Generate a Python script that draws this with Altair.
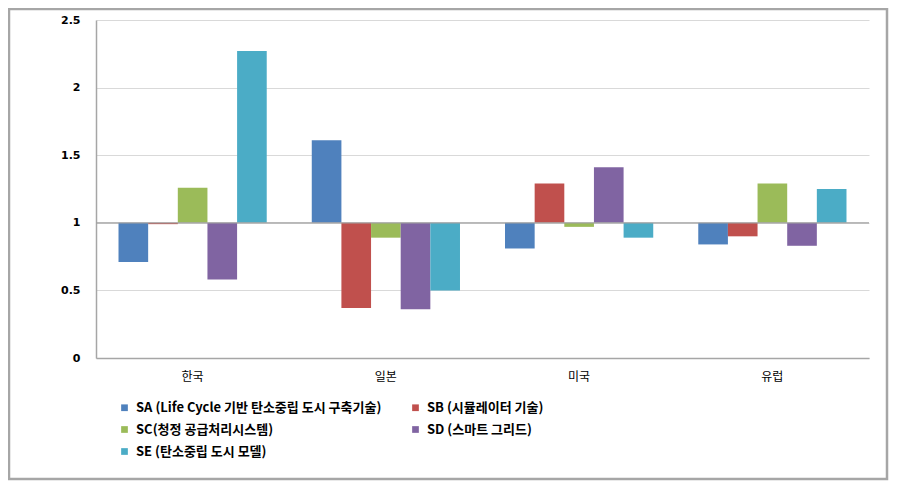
import altair as alt
import pandas as pd

categories = ["한국", "일본", "미국", "유럽"]
series = [
    "SA (Life Cycle 기반 탄소중립 도시 구축기술)",
    "SB (시뮬레이터 기술)",
    "SC(청정 공급처리시스템)",
    "SD (스마트 그리드)",
    "SE (탄소중립 도시 모델)",
]
colors = ["#4F81BD", "#C0504D", "#9BBB59", "#8064A2", "#4BACC6"]
SA = [0.71, 1.61, 0.81, 0.84]
SB = [0.99, 0.37, 1.29, 0.90]
SC = [1.26, 0.89, 0.97, 1.29]
SD = [0.58, 0.36, 1.41, 0.83]
SE = [2.27, 0.50, 0.89, 1.25]
y_ticks = [0, 0.5, 1, 1.5, 2, 2.5]

rows = []
for s, vals in zip(series, [SA, SB, SC, SD, SE]):
    for c, v in zip(categories, vals):
        rows.append({"국가": c, "기술": s, "값": v})
df = pd.DataFrame(rows)

W, H = 773, 338
FONT = "Noto Sans CJK KR"

bars = alt.Chart(df).mark_bar().encode(
    x=alt.X("국가:N", sort=categories,
            scale=alt.Scale(paddingInner=0.233, paddingOuter=0.1165),
            axis=alt.Axis(title=None, labelAngle=0, ticks=False, domain=True,
                          domainColor="#a6a6a6", domainWidth=1.5,
                          labelPadding=13, labelFontSize=12, labelFont=FONT,
                          labelColor="#000000")),
    xOffset=alt.XOffset("기술:N", sort=series, scale=alt.Scale(paddingInner=0, paddingOuter=0)),
    y=alt.Y("값:Q", scale=alt.Scale(domain=[0, 2.5], nice=False, zero=False),
            axis=alt.Axis(title=None, values=y_ticks, labelExpr="datum.value + ''",
                          grid=True, gridColor="#d9d9d9", gridWidth=1.2,
                          ticks=False, domain=True, domainColor="#a6a6a6", domainWidth=1.5,
                          labelPadding=16, labelFontSize=11, labelFontWeight="bold",
                          labelFont="DejaVu Sans", labelColor="#000000")),
    y2=alt.datum(1),
    color=alt.Color("기술:N", sort=series,
                    scale=alt.Scale(domain=series, range=colors),
                    legend=alt.Legend(title=None, orient="none", legendX=22, legendY=381,
                                      columns=2, direction="horizontal",
                                      symbolType="square", symbolSize=45,
                                      symbolStrokeWidth=0, symbolOffset=0,
                                      labelFontSize=13, labelFont=FONT, labelLimit=500,
                                      labelFontWeight="bold", labelColor="#000000",
                                      columnPadding=27, rowPadding=8, padding=0,
                                      labelOffset=5)),
)

baseline = alt.Chart(pd.DataFrame({"b": [1]})).mark_rule(color="#a0a0a0", strokeWidth=1.2).encode(
    y=alt.Y("b:Q")
)

border = alt.Chart(pd.DataFrame({"d": [0]})).mark_rect(
    fill=None, stroke="#a6a6a6", strokeWidth=2.5
).encode(
    x=alt.value(-87), x2=alt.value(791), y=alt.value(-11), y2=alt.value(459)
)

chart = alt.layer(border, bars, baseline).properties(
    width=W, height=H,
    autosize=alt.AutoSizeParams(type="none"),
    padding={"left": 88, "top": 12, "right": 21, "bottom": 124},
    background="#ffffff",
).configure_view(stroke=None)

chart.save("out.html", embed_options={"renderer": "svg", "actions": False})
